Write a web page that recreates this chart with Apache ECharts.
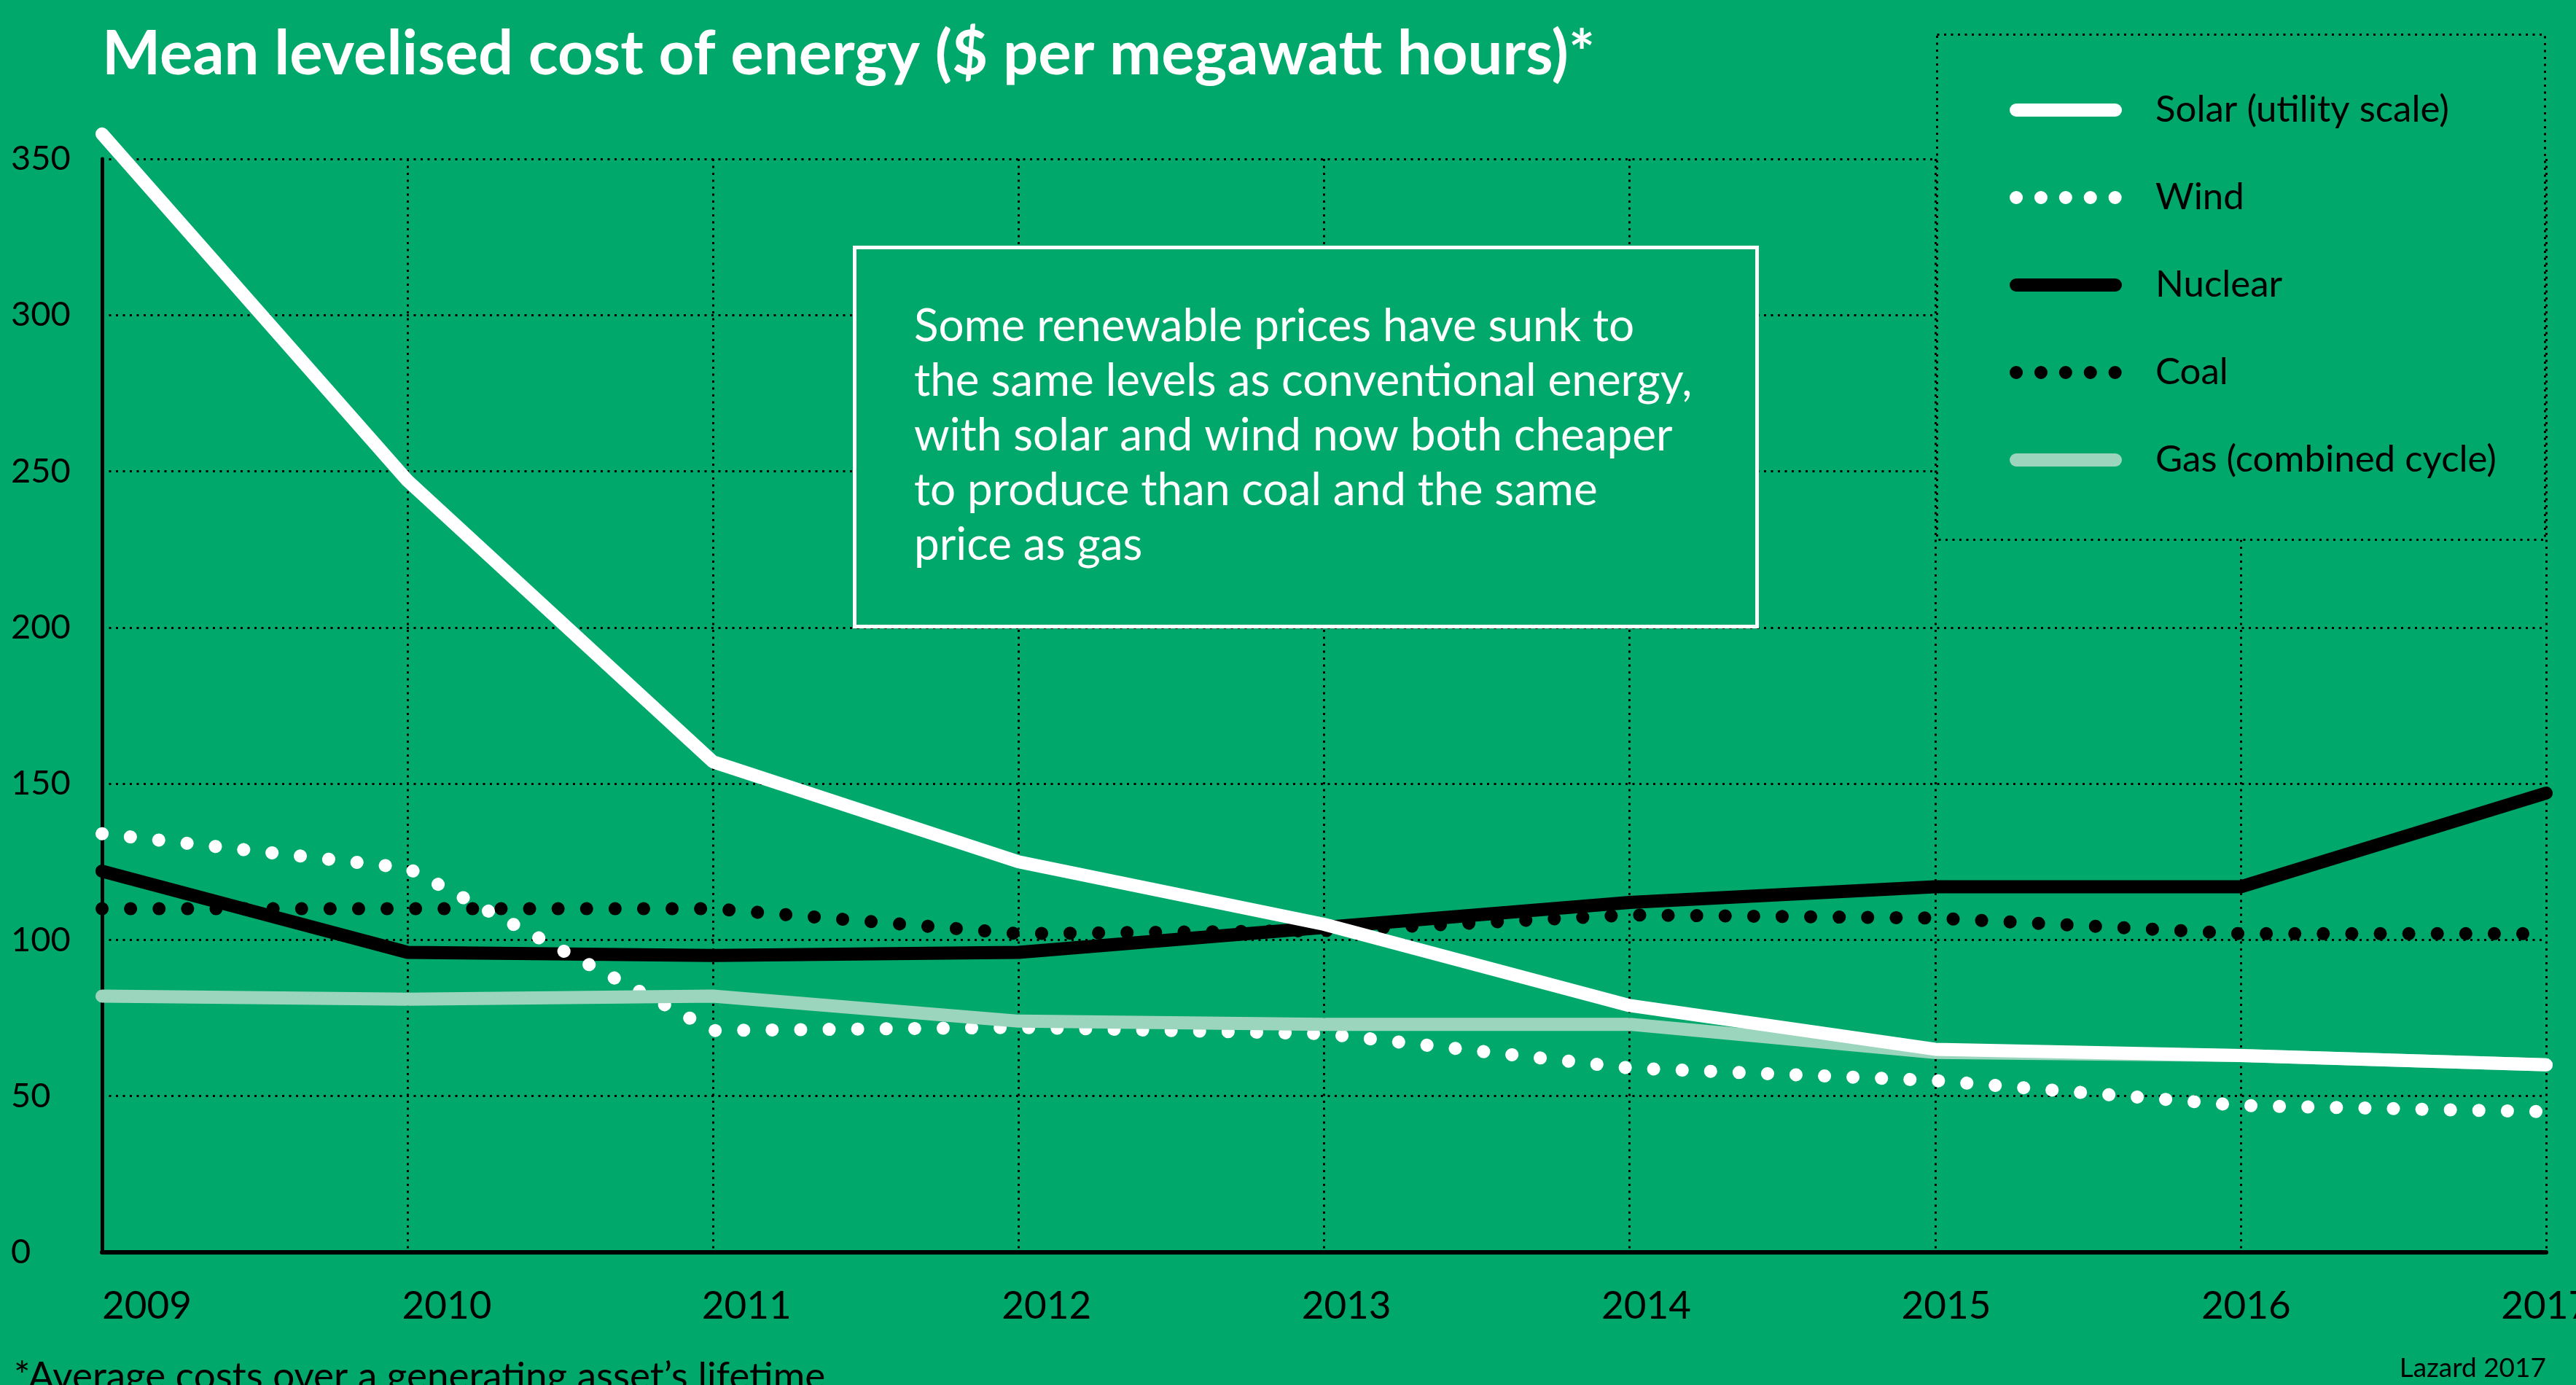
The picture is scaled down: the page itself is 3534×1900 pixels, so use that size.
<!DOCTYPE html>
<html>
<head>
<meta charset="utf-8">
<title>Mean levelised cost of energy</title>
<script src="https://cdn.jsdelivr.net/npm/echarts@6.0.0/dist/echarts.min.js"></script>
<style>
    html,body{margin:0;padding:0;background:#00a86c;}
    #chart{width:3534px;height:1900px;}
</style>
</head>
<body>
<div id="chart"></div>
<script>
    //数据
    var years   = ['2009','2010','2011','2012','2013','2014','2015','2016','2017'];
    var solar   = [358, 247, 157, 125, 105, 79, 65, 63, 60];
    var wind    = [134, 123, 71, 72, 70, 59, 55, 47, 45];
    var nuclear = [122, 96, 95, 96, 104, 112, 117, 117, 147];
    var coal    = [110, 110, 110, 102, 103, 108, 107, 102, 102];
    var gas     = [82, 81, 82, 74, 73, 73, 64, 63, 60];
    var yTicks  = [0, 50, 100, 150, 200, 250, 300, 350];

    var green = '#00a86c';
    var font = 'Lato';
    var note = 'Some renewable prices have sunk to\nthe same levels as conventional energy,\nwith solar and wind now both cheaper\nto produce than coal and the same\nprice as gas';

    var dots = [0.1, 39];
    var legendDots = [0.1, 33.8];
    var gridDots = [3, 6.5];

    function line(name, data, color, type){
        return {
            name: name,
            type: 'line',
            data: data,
            symbol: 'none',
            clip: false,
            silent: true,
            lineStyle: {
                color: color,
                width: 18,
                cap: 'round',
                type: type || 'solid'
            }
        };
    }

    var myChart = echarts.init(document.getElementById('chart'));

    var option = {
        backgroundColor: green,
        animation: false,
        title: {
            text: 'Mean levelised cost of energy ($ per megawatt hours)*',
            left: 140,
            top: 25,
            padding: 0,
            textStyle: {
                color: '#fff',
                fontFamily: font,
                fontWeight: 'bold',
                fontSize: 85,
                lineHeight: 100
            }
        },
        grid: {
            left: 140,
            right: 41,
            top: 218,
            bottom: 182,
            outerBoundsMode: 'none'
        },
        //图例
        legend: {
            orient: 'vertical',
            left: 2757,
            top: 121,
            padding: 0,
            itemWidth: 136,
            itemHeight: 18,
            itemGap: 60,
            selectedMode: false,
            itemStyle: { opacity: 0 },
            lineStyle: { width: 18, cap: 'round' },
            textStyle: {
                color: '#000',
                fontFamily: font,
                fontSize: 51,
                lineHeight: 60,
                padding: [0, 0, 0, 50]
            },
            data: [
                { name: 'Solar (utility scale)' },
                { name: 'Wind', lineStyle: { width: 18, cap: 'round', type: legendDots } },
                { name: 'Nuclear' },
                { name: 'Coal', lineStyle: { width: 18, cap: 'round', type: legendDots } },
                { name: 'Gas (combined cycle)' }
            ]
        },
        xAxis: [
            {
                type: 'category',
                data: years,
                boundaryGap: false,
                axisLine: { lineStyle: { color: '#000', width: 6 } },
                axisTick: { show: false },
                axisLabel: { show: false },
                splitLine: {
                    show: true,
                    lineStyle: { color: '#000', width: 3, type: gridDots }
                }
            },
            {
                // 年份标签
                type: 'value',
                min: 0,
                max: 8.15,
                interval: 1,
                position: 'bottom',
                axisLine: { show: false },
                axisTick: { show: false },
                splitLine: { show: false },
                axisLabel: {
                    align: 'left',
                    margin: 44,
                    color: '#000',
                    fontFamily: font,
                    fontSize: 53,
                    lineHeight: 60,
                    formatter: function(v){
                        return years[v] || '';
                    }
                }
            }
        ],
        yAxis: {
            type: 'value',
            min: yTicks[0],
            max: yTicks[yTicks.length - 1],
            interval: yTicks[1] - yTicks[0],
            axisLine: { show: true, lineStyle: { color: '#000', width: 5 } },
            axisTick: { show: false },
            axisLabel: {
                align: 'left',
                margin: 125,
                color: '#000',
                fontFamily: font,
                fontSize: 47
            },
            splitLine: {
                show: true,
                lineStyle: { color: '#000', width: 3, type: gridDots }
            }
        },
        series: [
            line('Nuclear', nuclear, '#000'),
            line('Wind', wind, '#fff', dots),
            line('Coal', coal, '#000', dots),
            line('Gas (combined cycle)', gas, '#9cd5bd'),
            line('Solar (utility scale)', solar, '#fff')
        ],
        graphic: [
            {
                type: 'rect',
                z: 1,
                shape: { x: 2657.5, y: 47.5, width: 834, height: 693 },
                style: { fill: green, stroke: '#000', lineWidth: 3, lineDash: gridDots }
            },
            {
                type: 'rect',
                z: 1,
                shape: { x: 1172.5, y: 339.5, width: 1238, height: 520 },
                style: { fill: green, stroke: '#fff', lineWidth: 5 }
            },
            {
                type: 'text',
                z: 3,
                x: 1254,
                y: 410,
                style: {
                    text: note,
                    fill: '#fff',
                    fontFamily: font,
                    fontSize: 62,
                    lineHeight: 75,
                    verticalAlign: 'top'
                }
            },
            {
                type: 'text',
                z: 3,
                x: 19,
                y: 1889,
                style: {
                    text: '*Average costs over a generating asset\u2019s lifetime',
                    fill: '#000',
                    fontFamily: font,
                    fontSize: 53,
                    verticalAlign: 'middle'
                }
            },
            {
                type: 'text',
                z: 3,
                x: 3493,
                y: 1877,
                style: {
                    text: 'Lazard 2017',
                    fill: '#000',
                    fontFamily: font,
                    fontSize: 37,
                    align: 'right',
                    verticalAlign: 'middle'
                }
            }
        ]
    };

    myChart.setOption(option);
</script>
</body>
</html>
